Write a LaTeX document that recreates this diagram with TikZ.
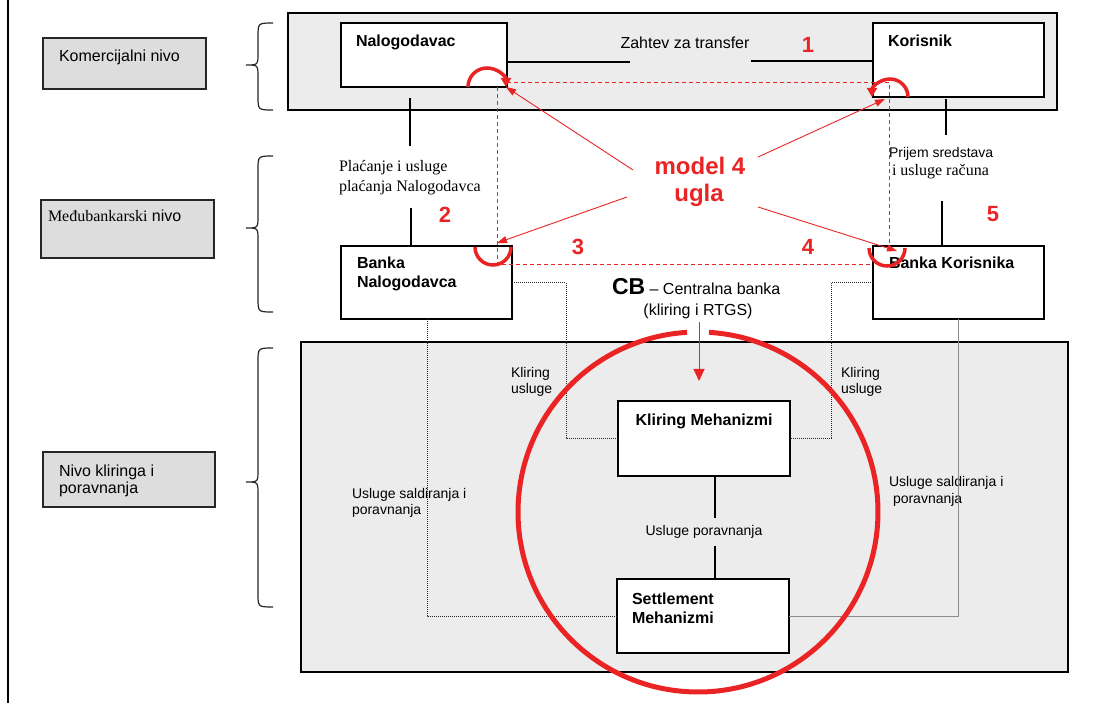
\documentclass[tikz,border=0pt]{standalone}
\usepackage{fontspec}
\setmainfont{Liberation Sans}
\newfontfamily\timesfont{Liberation Serif}
\usetikzlibrary{arrows.meta}

\definecolor{cornerred}{RGB}{234,36,36}
\definecolor{panelgray}{RGB}{236,236,236}
\definecolor{labelgray}{RGB}{221,221,221}

% curly brace: top, tip, bottom (stem at x=258, tip at x=247)
\newcommand{\levelbrace}[3]{%
  \draw[bracepen] (273,#1) .. controls (258,#1) .. (258,#1+14)
    -- (258,#2-12) .. controls (258,#2) .. (246,#2)
    .. controls (258,#2) .. (258,#2+12)
    -- (258,#3-14) .. controls (258,#3) .. (273,#3);}

\begin{document}
\begin{tikzpicture}[x=1pt,y=-1pt,
  every node/.style={inner sep=0pt,outer sep=0pt},
  panel/.style={draw=black,line width=1.5pt,fill=panelgray,anchor=north west},
  levelbox/.style={draw=black!85,line width=1.3pt,fill=labelgray,anchor=north west},
  actor/.style={draw=black,line width=1.7pt,fill=white,anchor=north west},
  actorname/.style={font=\fontsize{16}{19}\selectfont\bfseries,align=left},
  plain16/.style={font=\fontsize{16}{19}\selectfont,align=left},
  small14/.style={font=\fontsize{14}{16}\selectfont,align=left},
  serif16/.style={font=\fontsize{16}{20}\selectfont\timesfont,align=left},
  stepno/.style={font=\fontsize{22}{22}\selectfont\bfseries,text=cornerred},
  modeltext/.style={font=\fontsize{24}{27}\selectfont\bfseries,text=cornerred},
  link/.style={draw=black,line width=1.2pt},
  dotlink/.style={draw=black!85,line width=1pt,dash pattern=on 1pt off 1pt},
  greylink/.style={draw=black!45,line width=0.9pt},
  redpointer/.style={draw=cornerred,line width=0.9pt,-{Triangle[length=10pt,width=7pt]}},
  reddash/.style={draw=cornerred,line width=0.9pt,dash pattern=on 4pt off 3pt},
  turnarc/.style={draw=cornerred,line width=3.5pt},
  bracepen/.style={draw=black!85,line width=1.2pt},
]
\useasboundingbox (0,0) rectangle (1093,703);

% page frame on the left
\draw[line width=1.3pt] (8,0) -- (8,703);

% level panels
\node[panel,minimum width=769pt,minimum height=97pt] (commerce) at (288,13) {};
\node[panel,minimum width=767pt,minimum height=330pt] (clearing) at (301,342) {};

% level labels (multi-line nodes: base anchor sits on the last line)
\node[levelbox,minimum width=163pt,minimum height=51pt] (lvlcom) at (43,38) {};
\node[plain16,anchor=base west] (lvlcomtxt) at (59,62) {Komercijalni nivo};
\node[levelbox,minimum width=173pt,minimum height=58pt] (lvlbank) at (41,200) {};
\node[plain16,anchor=base west] (lvlbanktxt) at (48,222) {{\timesfont Međubankarski} nivo};
\node[levelbox,minimum width=172pt,minimum height=55pt] (lvlclr) at (43,452) {};
\node[font=\fontsize{16}{17}\selectfont,align=left,anchor=base west] (lvlclrtxt) at (59,493) {Nivo kliringa i\\poravnanja};

\levelbrace{23}{65}{110}
\levelbrace{156}{228}{312}
\levelbrace{348}{482}{607}

% participants
\node[actor,minimum width=166pt,minimum height=64pt] (nal) at (341,23) {};
\node[actorname,anchor=base west] (naltxt) at (356,47) {Nalogodavac};
\node[actor,minimum width=171pt,minimum height=74pt] (kor) at (873,23) {};
\node[actorname,anchor=base west] (kortxt) at (888,47) {Korisnik};
\node[actor,minimum width=171pt,minimum height=73pt] (bn) at (341,246) {};
\node[actorname,anchor=base west] (bntxt) at (357,288) {Banka\\Nalogodavca};
\node[actor,minimum width=171pt,minimum height=73pt] (bk) at (873,246) {};
\node[actorname,anchor=base west] (bktxt) at (889,269) {Banka Korisnika};
\node[actor,minimum width=172pt,minimum height=75pt] (km) at (618,401) {};
\node[actorname,anchor=base] (kmtxt) at (704,425) {Kliring Mehanizmi};
\node[actor,minimum width=172pt,minimum height=74pt] (sm) at (617,579) {};
\node[actorname,anchor=base west] (smtxt) at (632,623) {Settlement\\Mehanizmi};

% commercial request
\node[plain16,anchor=base] (req) at (685,49) {Zahtev za transfer};
\coordinate (reqL) at (630,62);
\coordinate (reqR) at (751,61);
\draw[link] (nal.east |- reqL) -- (reqL);
\draw[link] (reqR) -- (kor.west |- reqR);

% payer side
\node[serif16,anchor=base west] (paytxt) at (339,192) {Plaćanje i usluge\\plaćanja Nalogodavca};
\coordinate (payA) at (410,98);
\coordinate (payB) at (410,146);
\coordinate (payC) at (411,208);
\draw[link] (payA) -- (payB);
\draw[link] (payC) -- (bn.north -| payC);

% payee side
\node[small14,anchor=base west] (rcvtxt) at (889,158) {Prijem sredstava};
\node[serif16,anchor=base west] (rcvtxtb) at (892,176) {i usluge računa};
\coordinate (rcvA) at (946,99);
\coordinate (rcvB) at (946,135);
\coordinate (rcvC) at (942,201);
\draw[link] (rcvA) -- (rcvB);
\draw[link] (rcvC) -- (bk.north -| rcvC);

% clearing and settlement links
\node[small14,anchor=base west] (clrL) at (511,393) {Kliring\\usluge};
\node[small14,anchor=base west] (clrR) at (841,393) {Kliring\\usluge};
\node[small14,anchor=base west] (setL) at (352,514) {Usluge saldiranja i\\poravnanja};
\node[font=\fontsize{14}{17}\selectfont,align=left,anchor=base west] (setR) at (889,503) {Usluge saldiranja i\\\hspace{4pt}poravnanja};
\node[small14,anchor=base] (ksm) at (704,535) {Usluge poravnanja};

\coordinate (kmLow) at (715,518);
\coordinate (smHigh) at (715,546);
\draw[link] (km.south -| kmLow) -- (kmLow);
\draw[link] (smHigh) -- (sm.north -| smHigh);

\coordinate (dotBend) at (427,616);
\draw[dotlink] (bn.south -| dotBend) -- (dotBend) -- (sm.west |- dotBend);
\coordinate (dotA) at (566,283);
\coordinate (dotB) at (566,438);
\draw[dotlink] (bn.east |- dotA) -- (dotA) -- (dotB) -- (km.west |- dotB);
\coordinate (dotC) at (831,283);
\coordinate (dotD) at (831,438);
\draw[dotlink] (bk.west |- dotC) -- (dotC) -- (dotD) -- (km.east |- dotD);
\coordinate (greyBend) at (958,616);
\draw[greylink] (bk.south -| greyBend) -- (greyBend) -- (sm.east |- greyBend);

% four-corner frame
\coordinate (frTL) at (497,82);
\coordinate (frTR) at (889,82);
\coordinate (frBL) at (497,264);
\coordinate (frRend) at (889,250);
\draw[reddash] (nal.east |- frTL) -- (frTR) -- (frRend);
\draw[reddash] (nal.south -| frTL) -- (frBL) -- (bk.west |- frBL);

% step numbers
\node[stepno,anchor=base] (s1) at (808,53) {1};
\node[stepno,anchor=base] (s2) at (445,223) {2};
\node[stepno,anchor=base] (s3) at (578,255) {3};
\node[stepno,anchor=base] (s4) at (808,255) {4};
\node[stepno,anchor=base] (s5) at (993,222) {5};

% four-corner model
\node[modeltext,anchor=base] (model) at (700,175) {model 4};
\node[modeltext,anchor=base] (ugla) at (699,202) {ugla};

\coordinate (fromNal) at (633,170);
\coordinate (fromKor) at (758,157);
\coordinate (fromBn) at (627,197);
\coordinate (fromBk) at (758,207);
\coordinate (tipNal) at (506,87);
\coordinate (tipKor) at (885,99);
\coordinate (tipBn) at (497,243);
\coordinate (tipBk) at (897,251);
\draw[redpointer] (fromNal) -- (tipNal);
\draw[redpointer] (fromKor) -- (tipKor);
\draw[redpointer] (fromBn) -- (tipBn);
\draw[redpointer] (fromBk) -- (tipBk);

% corner turns
\draw[turnarc,-{Triangle[length=9pt,width=10pt]}] (468,87) arc[start angle=180,end angle=360,radius=19];
\draw[turnarc,-{Triangle[length=9pt,width=10pt]}] (908,97) arc[start angle=0,end angle=-180,radius=18];
\draw[turnarc] (475,247) arc[start angle=180,end angle=0,radius=18];
\draw[turnarc] (869,248) arc[start angle=180,end angle=0,radius=18];

% central bank
\node[plain16,anchor=base west] (cbtitle) at (612,295) {{\fontsize{23}{23}\selectfont\bfseries CB} – Centralna banka};
\node[plain16,anchor=base] (cbsub) at (698,316) {(kliring i RTGS)};
\coordinate (cbArrowStart) at (699,322);
\coordinate (cbArrowEnd) at (699,381);
\draw[draw=cornerred,line width=1pt,-{Triangle[length=12pt,width=11pt]}] (cbArrowStart) -- (cbArrowEnd);
\draw[draw=cornerred,line width=5pt] (698,512) ++(273.5:180) arc[start angle=273.5,end angle=626.5,radius=180];

\end{tikzpicture}
\end{document}
